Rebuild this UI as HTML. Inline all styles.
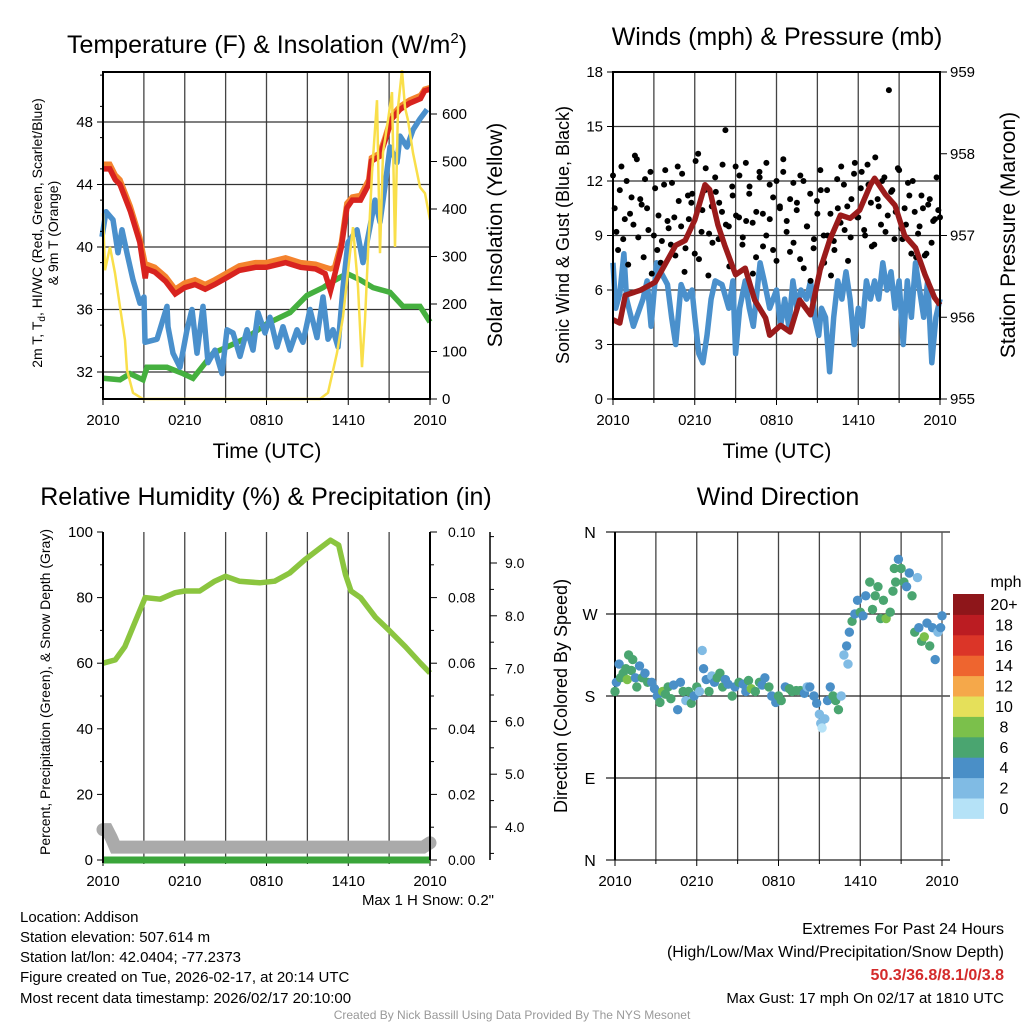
<!DOCTYPE html>
<html><head><meta charset="utf-8"><style>
body{margin:0;background:#fff;width:1024px;height:1024px;overflow:hidden}
svg text{font-family:"Liberation Sans",Arial,sans-serif;fill:#000}
</style></head><body>
<svg id="s" width="1024" height="1024" xmlns="http://www.w3.org/2000/svg">
<g id="static">
<text x="267" y="53" font-size="25" text-anchor="middle">Temperature (F) &amp; Insolation (W/m<tspan dy="-10" font-size="15">2</tspan><tspan dy="10">)</tspan></text>
<text x="777" y="45" font-size="25" text-anchor="middle">Winds (mph) &amp; Pressure (mb)</text>
<text x="266" y="505" font-size="25" text-anchor="middle">Relative Humidity (%) &amp; Precipitation (in)</text>
<text x="778" y="505" font-size="25" text-anchor="middle">Wind Direction</text>
<text x="267" y="458" font-size="21" text-anchor="middle">Time (UTC)</text>
<text x="777" y="458" font-size="21" text-anchor="middle">Time (UTC)</text>
<text transform="translate(42,233) rotate(-90)" font-size="14" text-anchor="middle">2m T, T<tspan font-size="10" dy="3">d</tspan><tspan dy="-3">, HI/WC (Red, Green, Scarlet/Blue)</tspan></text>
<text transform="translate(58,233) rotate(-90)" font-size="14" text-anchor="middle">&amp; 9m T (Orange)</text>
<text transform="translate(502,235) rotate(-90)" font-size="21" text-anchor="middle">Solar Insolation (Yellow)</text>
<text transform="translate(569,235) rotate(-90)" font-size="18" text-anchor="middle">Sonic Wind &amp; Gust (Blue, Black)</text>
<text transform="translate(1015,235) rotate(-90)" font-size="21" text-anchor="middle">Station Pressure (Maroon)</text>
<text transform="translate(50,692) rotate(-90)" font-size="14" text-anchor="middle">Percent, Precipitation (Green), &amp; Snow Depth (Gray)</text>
<text transform="translate(567,696) rotate(-90)" font-size="18" text-anchor="middle">Direction (Colored By Speed)</text>
<text x="494" y="905" font-size="15" text-anchor="end">Max 1 H Snow: 0.2"</text>
<g font-size="15">
<text x="20" y="922">Location: Addison</text>
<text x="20" y="942">Station elevation: 507.614 m</text>
<text x="20" y="962">Station lat/lon: 42.0404; -77.2373</text>
<text x="20" y="982">Figure created on Tue, 2026-02-17, at 20:14 UTC</text>
<text x="20" y="1003">Most recent data timestamp: 2026/02/17 20:10:00</text>
</g>
<g font-size="16" text-anchor="end">
<text x="1004" y="934">Extremes For Past 24 Hours</text>
<text x="1004" y="957">(High/Low/Max Wind/Precipitation/Snow Depth)</text>
<text x="1004" y="980" font-weight="bold" style="fill:#d42b2b">50.3/36.8/8.1/0/3.8</text>
<text x="1004" y="1003" font-size="15">Max Gust: 17 mph On 02/17 at 1810 UTC</text>
</g>
<text x="512" y="1019" font-size="12" text-anchor="middle" style="fill:#999">Created By Nick Bassill Using Data Provided By The NYS Mesonet</text>
</g>
</svg>
<script>
// ---- Panel 1 data ----
const tHours=[0,0.5,0.9,1.25,2,2.7,3.1,3.2,3.8,4.6,5.3,6,6.75,7.5,8.2,9,10,11.2,12,13.4,14.5,15.6,16.3,16.7,17,17.5,17.9,18.3,18.9,19.5,19.7,20.3,20.7,21.2,21.8,22.5,23.3,23.6,24];
const tVals=[45.0,45.0,44.3,44.0,42.3,40.3,38.0,38.6,38.4,37.8,37.0,37.4,37.6,37.3,37.6,38.0,38.5,38.7,38.7,39.0,38.7,38.6,38.3,37.2,38.2,40.0,42.5,43.0,43.0,44.0,45.5,45.8,46.8,48.2,48.8,49.2,49.5,50.0,50.1];
const t9Vals=[45.3,45.3,44.6,44.3,42.6,40.6,38.9,38.9,38.7,38.1,37.3,37.7,37.9,37.6,37.9,38.3,38.8,39.0,39.0,39.3,39.0,38.9,38.7,38.6,38.7,40.3,42.8,43.2,43.3,44.3,45.7,46.0,47.0,48.4,49.0,49.4,49.7,50.1,50.2];
const tdX=[102,106,113,118,122,127,133,140,144,145,157,167,168,173,180,187,192,197,203,208,215,222,227,233,240,247,253,258,265,270,277,283,290,297,303,310,317,323,328,333,338,343,348,357,363,370,375,380,385,390,397,400,407,413,420,427];
const tdVals=[40.65,42.26,41.74,39.63,41.1,39.6,37.9,36.4,36.8,33.9,34.1,36.2,34.9,33.2,32.3,34.7,36.0,33.2,36.2,32.6,33.4,31.9,34.7,34.5,33.0,34.7,33.4,35.8,34.5,35.5,33.6,34.9,33.4,34.7,33.9,36.0,34.2,36.8,34.1,34.7,33.6,37.4,40.3,41.1,39.0,41.3,43.0,41.6,43.9,46.4,45.4,47.1,46.4,47.5,48.2,48.8];
const hiX=[103,120,130,143,147,167,183,193,213,227,247,267,290,307,323,330,347,360,373,390,403,420,430];
const hiVals=[31.6,31.5,31.9,31.5,32.3,32.3,31.9,31.6,33.2,33.6,34.2,35.1,35.8,36.9,37.4,37.7,38.3,37.9,37.4,37.1,36.2,36.2,35.2];
const solX=[103,105,110,115,120,125,127,133,143,320,328,337,343,350,353,358,362,365,368,372,377,380,383,388,392,395,398,402,405,408,413,420,425,430];
const solVals=[391,271,320,265,194,124,61,13,0,0,13,97,173,307,362,236,67,166,307,476,629,307,518,587,646,320,614,692,614,587,518,446,433,377];
const tempTicks=[32,36,40,44,48];
const solTicks=[0,100,200,300,400,500,600];
const timeLabels=["2010","0210","0810","1410","2010"];
// ---- Panel 2 data ----
const windHours=[0,0.2,0.5,0.8,1,1.5,2.2,2.5,2.8,3.2,3.5,4,4.3,4.6,5,5.4,5.8,6,6.3,6.6,6.9,7.2,7.5,8,8.5,8.8,9,9.3,9.7,10,10.3,10.8,11.1,11.5,12,12.3,12.6,12.9,13.2,13.5,13.8,14.2,14.5,14.8,15.1,15.3,15.6,15.9,16.2,16.5,16.8,17.1,17.4,17.7,18,18.3,18.6,18.9,19.2,19.5,19.8,20.1,20.4,20.7,21,21.3,21.6,21.9,22.2,22.5,22.8,23.1,23.4,23.7,24];
const windVals=[7.5,5.0,5.8,8.0,5.5,4.0,5.5,6.5,4.0,7.5,7.0,6.3,4.5,3.0,6.3,5.5,6.0,4.5,2.5,2.0,3.5,5.5,6.5,6.3,5.0,6.5,2.5,5.0,6.5,5.0,4.0,7.5,6.5,5.0,6.0,4.0,5.5,4.0,6.5,5.0,6.0,5.5,6.5,4.5,3.5,5.0,4.5,1.5,4.5,6.5,5.5,7.0,5.5,3.0,5.0,4.0,6.5,5.5,6.5,5.5,7.5,6.0,7.0,5.0,6.5,3.0,6.5,4.5,7.5,6.0,4.5,6.5,2.0,4.5,5.5];
const gustVals=[12.3,9.2,11.5,8.8,12.0,10.2,9.6,13.2,11.0,7.8,10.5,12.5,9.0,8.2,7.5,11.8,9.8,8.5,10.0,12.8,9.5,7.0,11.2,10.8,8.0,13.5,9.2,11.5,6.8,10.6,12.2,8.8,10.3,14.8,9.5,11.7,12.8,10.0,8.5,13.0,11.3,9.7,7.8,12.5,10.2,9.0,11.8,8.2,12.0,10.5,13.2,9.8,11.0,8.6,10.8,12.3,7.2,9.5,6.5,8.8,10.2,11.5,7.5,9.0,6.8,8.2,10.5,12.8,9.3,7.6,11.0,13.0,10.0,12.5,9.0,11.8,8.4,13.3,10.6,12.0,9.2,17.0,11.5,10.3,12.6,8.8,9.6,11.2,12.0,7.8,9.5,10.5,8.0,11.0,9.8,12.2,10.0];
const gust2Vals=[10.5,8.2,12.8,9.9,7.4,11.1,13.4,8.9,10.7,12.1,9.3,6.9,11.6,10.1,8.7,12.6,9.4,11.9,7.9,10.9,12.4,8.3,9.9,11.3,13.1,7.7,10.4,12.7,9.1,8.6,11.4,10.8,12.9,9.6,7.3,11.2,10.1,12.3,8.9,9.8,11.7,6.9,10.3,12.2,8.4,13.0,9.9,11.1,7.6,10.6,12.5,9.2,8.1,11.9,10.4,7.7,12.0,9.5,11.3,8.3,10.9,12.6,9.0,11.5,10.2,8.7,12.1,9.7,11.8,10.6,8.9,12.4,10.0,11.6,9.3,12.9,10.8,8.5,11.0,9.6,12.2,10.1,11.4,8.8,12.7,9.4,10.5,11.9,8.0,10.3,9.1,11.2,7.9,10.7,8.6,9.9,10.4];
const presHours=[0,0.5,0.9,2,3.1,3.8,4.6,5.3,6,6.75,7.1,7.7,8.2,9,9.7,10.4,11.2,11.5,12.3,13,13.7,14.5,15.2,15.9,16.7,17.4,18.1,18.9,19.2,20,20.7,21.4,22.2,22.9,23.6,24];
const presVals=[955.97,955.93,956.27,956.33,956.43,956.64,956.88,956.94,957.19,957.62,957.56,957.13,956.88,956.52,956.6,956.21,955.99,955.78,955.9,955.82,956.21,956.03,956.58,956.94,957.25,957.21,957.31,957.62,957.7,957.5,957.37,957.0,956.85,956.52,956.24,956.15];
const windTicks=[0,3,6,9,12,15,18];
const presTicks=[955,956,957,958,959];
// ---- Panel 3 data ----
const rhHours=[0,0.9,1.6,2.3,3.1,4.2,5.3,6,7.1,8.2,9,10,11.5,12.6,13.7,14.8,15.9,16.7,17.3,17.8,18.2,18.9,20,21,22.2,23.3,24];
const rhVals=[60,61,65,72,80,79.5,81.5,82,82,85,86.5,85,84.5,85,87.5,91.5,95,97.5,96,87,82,80,74,70,65,60,57];
const snowHours=[0,0.3,0.6,0.9,1.2,23.5,24];
const snowVals=[3.95,3.95,3.8,3.62,3.62,3.62,3.7];
const precipHours=[0,24];
const precipVals=[0,0];
const rhTicks=[0,20,40,60,80,100];
const precipTicks=["0.00","0.02","0.04","0.06","0.08","0.10"];
const snowTicks=["4.0","5.0","6.0","7.0","8.0","9.0"];
// ---- Panel 4 data ----
const wdHours=[0,0.1,0.3,0.4,0.6,0.8,0.9,1,1.2,1.3,1.5,1.6,1.8,2,2.2,2.4,2.7,2.9,3.1,3.3,3.5,3.7,3.9,4.1,4.3,4.6,4.8,5.0,5.2,5.4,5.6,5.8,6.0,6.2,6.4,6.5,6.7,6.9,7.1,7.3,7.5,7.7,7.9,8.1,8.3,8.6,8.8,9.1,9.4,9.6,9.8,10,10.3,10.6,10.8,11,11.3,11.5,11.8,12,12.2,12.5,12.8,13,13.3,13.6,13.9,14.1,14.3,14.6,14.8,15,15.1,15.2,15.4,15.6,15.8,16,16.2,16.4,16.6,16.8,17.0,17.1,17.2,17.4,17.6,17.8,18,18.2,18.4,18.7,18.9,19.1,19.3,19.5,19.7,19.9,20.2,20.4,20.5,20.6,20.8,21,21.2,21.4,21.6,21.8,22,22.2,22.3,22.5,22.7,22.9,23.1,23.3,23.5,23.7,23.9,24];
const wdDirs=[185,195,215,200,205,210,198,225,208,220,200,190,213,200,205,195,195,188,180,173,185,182,190,177,192,165,195,185,175,185,172,180,190,185,230,210,198,185,202,195,200,205,190,198,193,180,190,195,193,185,197,188,185,195,192,200,190,180,173,180,175,190,188,185,186,186,183,190,190,180,172,160,150,145,155,175,190,180,175,165,180,225,235,215,250,262,270,285,272,268,290,305,275,290,300,265,285,265,272,295,320,305,330,320,305,300,315,290,250,310,255,240,245,260,235,255,220,250,255,268];
const wdSpeeds=[6.5,5,4.5,6.5,7,6.5,8.5,7,6.5,6,5,6.5,5,6.5,4.5,6,4.5,5,4.5,6.5,8.5,6.5,7,6,4.5,4.5,5,6.5,3,6.5,6.5,4.5,6,3,3,4.5,5,6.5,3,4.5,6.5,6.5,6,4.5,5,6.5,4.5,6,5,4.5,6,8.5,6.5,6,4.5,4.5,6,5,4.5,6,6.5,4.5,6.5,6,6.5,6,5,3,4.5,4.5,5,3,3,1.5,3,4.5,5,6,6.5,6.5,2.5,3,5,3,4.5,6,4.5,5,6.5,4.5,4.5,6.5,6.5,6,6.5,6,6.5,8.5,6,6.5,6.5,6,4.5,6.5,6,4.5,4.5,6.5,6.5,3,4.5,6.5,8.5,4.5,6.5,4.5,4.5,3,4.5,4.5];
const dirTicks=[0,90,180,270,360];
const dirLabels=["N","E","S","W","N"];
const cbLabels=["0","2","4","6","8","10","12","14","16","18","20+"];
const cbColors=["#b5e2f7","#80bbe4","#4a8fc7","#4aa570","#7bc04b","#e5e05a","#f5a84a","#ee652f","#db3528","#bb1c22","#8e161a"];

const NS="http://www.w3.org/2000/svg";
const svg=document.getElementById('s');
function el(tag,attrs,parent){const e=document.createElementNS(NS,tag);for(const k in attrs)e.setAttribute(k,attrs[k]);(parent||svg).appendChild(e);return e;}
function lin(d0,d1,r0,r1){return v=>r0+(v-d0)*(r1-r0)/(d1-d0);}
function pts(xs,ys,fx,fy){return xs.map((x,i)=>fx(x).toFixed(1)+','+fy(ys[i]).toFixed(1)).join(' ');}
function txt(x,y,s,size,anchor,parent){const t=el('text',{x:x,y:y,'font-size':size,'text-anchor':anchor||'middle'},parent);t.textContent=s;return t;}

function frame(L,R,T,B,name){
  const g=el('g',{});
  
  
  const fx=lin(0,24,L,R);
  for(let h=3;h<24;h+=3){el('line',{x1:fx(h),x2:fx(h),y1:T,y2:B,stroke:'#444','stroke-width':1.3},g);}
  return g;
}
function timeAxis(L,R,B,g){
  const fx=lin(0,24,L,R);
  timeLabels.forEach((s,i)=>{const h=i*6;el('line',{x1:fx(h),x2:fx(h),y1:B,y2:B+6,stroke:'#000'},g);const t=txt(fx(h),B+26,s,15,'middle',g);
  
  });
  for(let h=3;h<24;h+=6)el('line',{x1:fx(h),x2:fx(h),y1:B,y2:B+4,stroke:'#000'},g);
}

// ===== Panel 1 =====
(function(){
  const L=103,R=430,T=72,B=399;
  const fx=lin(0,24,L,R), fT=lin(32,48,372,122), fS=lin(0,600,399,114);
  const pxh=x=>(x-L)*24/(R-L);
  const g=frame(L,R,T,B,'temperature-panel');
  tempTicks.forEach(v=>{el('line',{x1:L,x2:R,y1:fT(v),y2:fT(v),stroke:'#333','stroke-width':1.2},g);el('line',{x1:L-6,x2:L,y1:fT(v),y2:fT(v),stroke:'#000'},g);const t=txt(L-10,fT(v)+5,String(v),15,'end',g);
    
    });
  solTicks.forEach(v=>{el('line',{x1:R,x2:R+7,y1:fS(v),y2:fS(v),stroke:'#000'},g);const t=txt(R+12,fS(v)+5,String(v),15,'start',g);
    
    });
  timeAxis(L,R,B,g);
  const hi=el('polyline',{points:pts(hiX.map(pxh),hiVals,fx,fT),fill:'none',stroke:'#45b03f','stroke-width':5.5});
  
  
  const td=el('polyline',{points:pts(tdX.map(pxh),tdVals,fx,fT),fill:'none',stroke:'#4a90cc','stroke-width':5.5,'stroke-linejoin':'round'});
  
  
  const t9=el('polyline',{points:pts(tHours,t9Vals,fx,fT),fill:'none',stroke:'#f4832e','stroke-width':5.5});
  
  
  const t2=el('polyline',{points:pts(tHours,tVals,fx,fT),fill:'none',stroke:'#d8231f','stroke-width':5.5});
  
  
  const so=el('polyline',{points:pts(solX.map(pxh),solVals,fx,fS),fill:'none',stroke:'#f9df4a','stroke-width':2.5});
  
  
  el('rect',{x:L,y:T,width:R-L,height:B-T,fill:'none',stroke:'#000','stroke-width':2});
  for(let v=31;v<=51;v+=2){if(fT(v)>T&&fT(v)<B)el('line',{x1:L-3,x2:L,y1:fT(v),y2:fT(v),stroke:'#000'});}
})();

// ===== Panel 2 =====
(function(){
  const L=613,R=940,T=72,B=399;
  const fx=lin(0,24,L,R), fW=lin(0,18,399,72), fP=lin(955,959,399,72);
  const g=frame(L,R,T,B,'wind-panel');
  windTicks.forEach(v=>{el('line',{x1:L,x2:R,y1:fW(v),y2:fW(v),stroke:'#333','stroke-width':1.2},g);el('line',{x1:L-6,x2:L,y1:fW(v),y2:fW(v),stroke:'#000'},g);const t=txt(L-10,fW(v)+5,String(v),15,'end',g);
    
    });
  presTicks.forEach(v=>{el('line',{x1:R,x2:R+7,y1:fP(v),y2:fP(v),stroke:'#000'},g);const t=txt(R+10,fP(v)+5,String(v),15,'start',g);
    
    });
  timeAxis(L,R,B,g);
  const w=el('polyline',{points:pts(windHours,windVals,fx,fW),fill:'none',stroke:'#4a90cc','stroke-width':5.5,'stroke-linejoin':'round'});
  
  
  const gg=el('g',{});
  
  
  gustVals.forEach((v,i)=>{const c=el('circle',{cx:fx(i*24/(gustVals.length-1)),cy:fW(v),r:3,fill:'#000'},gg);
    
    });
  gust2Vals.forEach((v,i)=>{const c=el('circle',{cx:fx((i+0.5)*24/gust2Vals.length),cy:fW(v),r:3,fill:'#000'},gg);
    
    });
  const p=el('polyline',{points:pts(presHours,presVals,fx,fP),fill:'none',stroke:'#9b1b1b','stroke-width':5.5,'stroke-linejoin':'round'});
  
  
  el('rect',{x:L,y:T,width:R-L,height:B-T,fill:'none',stroke:'#000','stroke-width':2});
})();

// ===== Panel 3 =====
(function(){
  const L=103,R=430,T=532,B=860;
  const fx=lin(0,24,L,R), fR=lin(0,100,860,532), fSn=lin(4,9,827,563);
  const g=frame(L,R,T,B,'humidity-panel');
  rhTicks.forEach((v,i)=>{el('line',{x1:L-6,x2:L,y1:fR(v),y2:fR(v),stroke:'#000'},g);const t=txt(L-10,fR(v)+5,String(v),15,'end',g);
    
    
    el('line',{x1:R,x2:R+7,y1:fR(v),y2:fR(v),stroke:'#000'},g);const t2=txt(R+18,fR(v)+5,precipTicks[i],14,'start',g);
    
    });
  for(let v=10;v<100;v+=20)el('line',{x1:L-3,x2:L,y1:fR(v),y2:fR(v),stroke:'#000'},g);
  for(let v=0.01;v<0.1;v+=0.02)el('line',{x1:R,x2:R+4,y1:fR(v*1000),y2:fR(v*1000),stroke:'#000'},g);
  el('line',{x1:490,x2:490,y1:532,y2:860,stroke:'#000','stroke-width':1.5},g);
  snowTicks.forEach(s=>{const v=parseFloat(s);el('line',{x1:490,x2:497,y1:fSn(v),y2:fSn(v),stroke:'#000'},g);const t=txt(505,fSn(v)+5,s,14,'start',g);
    
    });
  for(let v=3.5;v<9.6;v+=0.5){if(v%1!==0)el('line',{x1:490,x2:494,y1:fSn(v),y2:fSn(v),stroke:'#000'},g);}
  timeAxis(L,R,B,g);
  const sn=el('polyline',{points:pts(snowHours,snowVals,fx,fSn),fill:'none',stroke:'#aaaaaa','stroke-width':13,'stroke-linecap':'round'});
  
  
  const pr=el('polyline',{points:pts(precipHours,precipVals.map(v=>v*1000),fx,fR),fill:'none',stroke:'#3aa53a','stroke-width':7});
  
  
  const rh=el('polyline',{points:pts(rhHours,rhVals,fx,fR),fill:'none',stroke:'#8bc53f','stroke-width':5.5,'stroke-linejoin':'round'});
  
  
  el('line',{x1:L,x2:L,y1:T,y2:B+3,stroke:'#000','stroke-width':2});
  el('line',{x1:R,x2:R,y1:T,y2:B,stroke:'#000','stroke-width':2});
})();

// ===== Panel 4 =====
(function(){
  const L=615,R=942,T=532,B=860;
  const fx=lin(0,24,L,R), fD=lin(0,360,860,532);
  const g=frame(L,R,T,B,'wind-direction-panel');
  dirTicks.forEach((v,i)=>{el('line',{x1:606,x2:950,y1:fD(v),y2:fD(v),stroke:'#222','stroke-width':1.2},g);const t=txt(590,fD(v)+6,dirLabels[i],16,'middle',g);
    
    });
  el('line',{x1:L,x2:L,y1:T,y2:B,stroke:'#000','stroke-width':2},g);
  el('line',{x1:R,x2:R,y1:T,y2:B,stroke:'#555','stroke-width':1.3},g);
  timeAxis(L,R,B,g);
  const sg=el('g',{});
  
  
  wdHours.forEach((h,i)=>{const k=Math.min(10,Math.floor(wdSpeeds[i]/2));const c=el('circle',{cx:fx(h),cy:fD(wdDirs[i]),r:4.7,fill:cbColors[k]},sg);
    
    });
  const cb=el('g',{});
  
  
  const top=594,h=20.4;
  cbColors.forEach((c,i)=>{el('rect',{x:953,y:top+(10-i)*h,width:31,height:h+0.5,fill:c},cb);const t=txt(1004,top+(10-i)*h+16,cbLabels[i],16,'middle',cb);
    
    });
  const m=txt(1006,587,'mph',16,'middle',cb);
  
  
})();
</script>
</body></html>
